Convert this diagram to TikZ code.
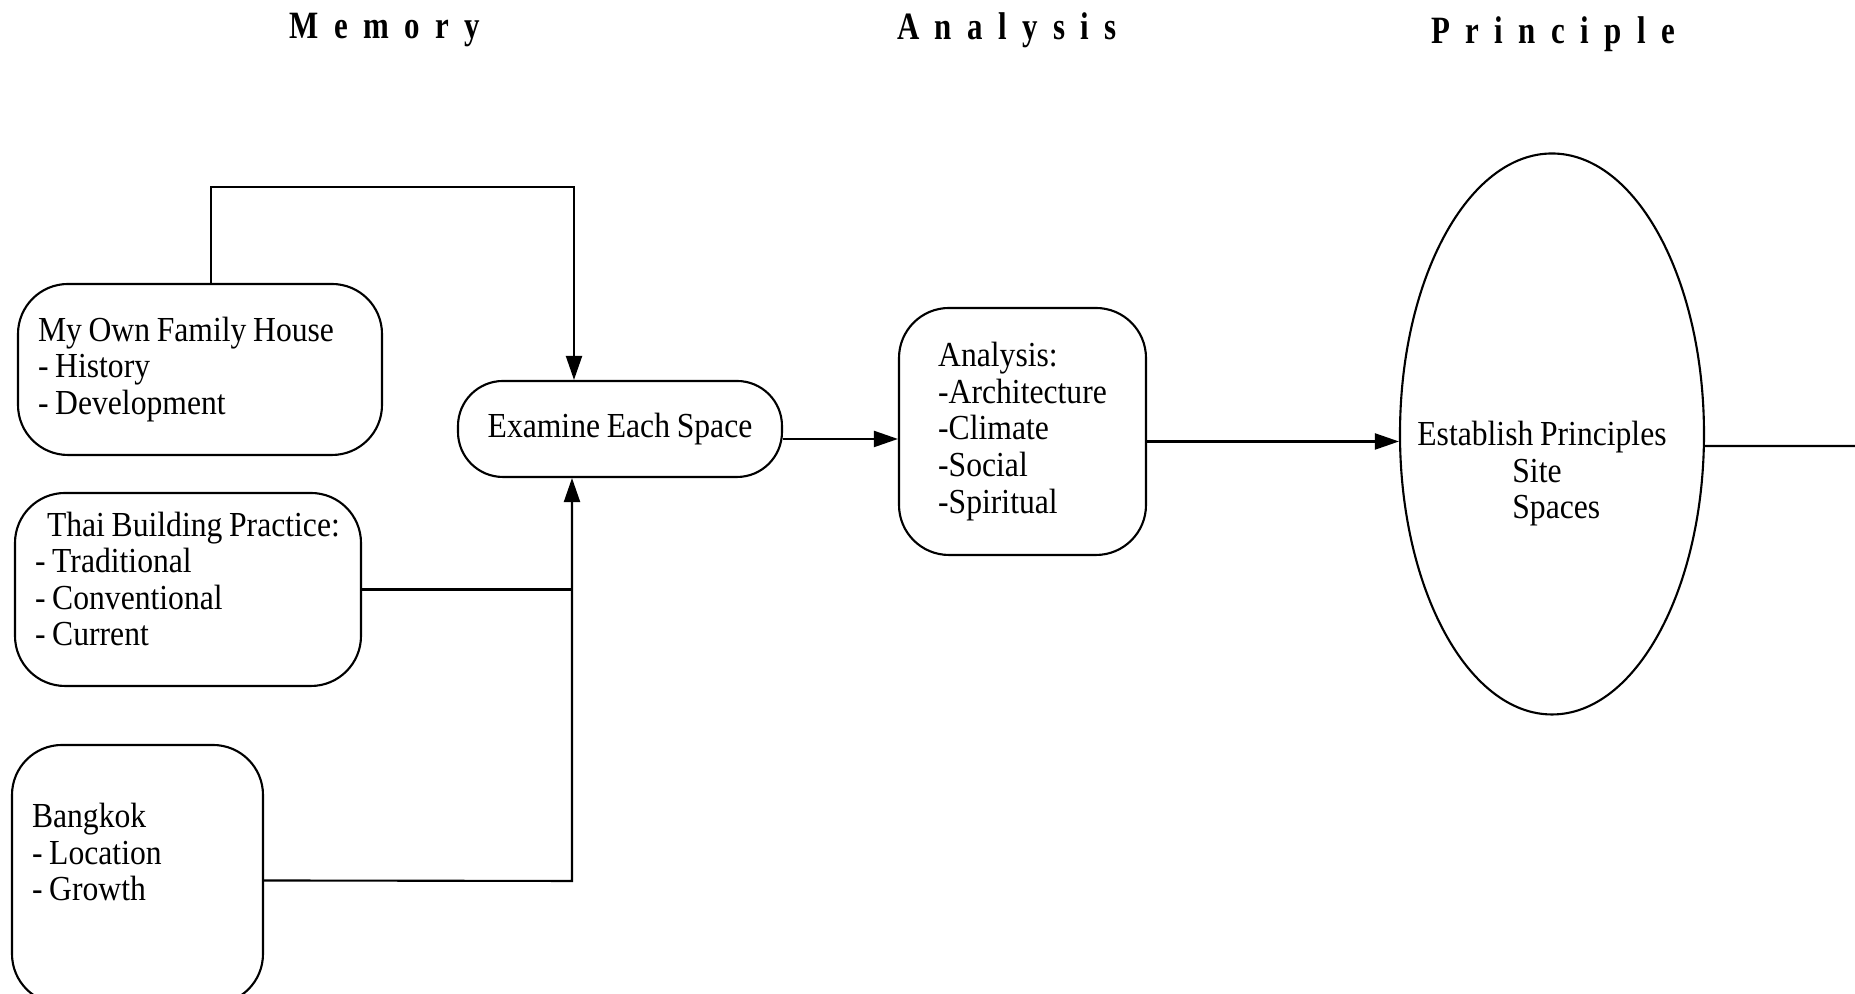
\documentclass[tikz,border=0pt]{standalone}
\usepackage{fontspec}
\setmainfont[FakeStretch=0.9, WordSpace=0.85]{Liberation Serif}
\newfontfamily\headfont[FakeStretch=0.8, LetterSpace=40]{Liberation Serif}
\usetikzlibrary{arrows.meta}
\usetikzlibrary{positioning}
\usetikzlibrary{shapes.geometric}
\tikzset{flow/.style = {-{Triangle[length=2.4mm, width=1.6mm]}}}
\tikzset{box/.style = {draw, rounded corners=0.5cm, align=flush left, inner xsep=0.2cm,
                       inner ysep=0, font=\fontsize{10}{10.4}\selectfont}}
\tikzset{heading/.style = {font=\headfont\bfseries\fontsize{11}{12}\selectfont}}

\begin{document}
\begin{tikzpicture}[line width=0.6pt]
          \useasboundingbox (0, 0) rectangle (18.55, 9.94);

          \node [heading] (memoryhead) at (3.85, 9.64) {Memory};
          \node [heading] (analysishead) at (10.07, 9.64) {Analysis};
          \node [heading] (principlehead) at (15.53, 9.60) {Principle};

          \node [box, text width=3.24cm, minimum height=1.71cm] (house) at (2.00, 6.245)
                {My Own Family House\\- History\\- Development};
          \node [box, text width=3.06cm, minimum height=1.93cm] (thai) at (1.88, 4.045)
                {\mbox{\hspace{0.12cm}Thai Building Practice:}\\- Traditional\\- Conventional\\- Current\\[-4.4pt]\mbox{}};
          \node [box, text width=2.11cm, minimum height=2.59cm] (bangkok) at (1.375, 1.195)
                {Bangkok\\- Location\\- Growth\\[2.4pt]\mbox{}};
          \node [box, rounded corners=0.45cm, align=center, minimum width=3.24cm,
                 minimum height=0.96cm] (examine) at (6.20, 5.65) {Examine Each Space};
          \node [box, minimum width=2.47cm, minimum height=2.47cm] (analysis) at (10.225, 5.625)
                {Analysis:\\-Architecture\\-Climate\\-Social\\-Spiritual};
          \node [draw, ellipse, minimum width=3.04cm, minimum height=5.61cm, inner sep=0]
                (principle) at (15.52, 5.60) {};
          \node [align=flush left, inner sep=0, font=\fontsize{10}{10.4}\selectfont] (principletext)
                at (15.42, 5.20)
                {Establish Principles\\\hspace{0.95cm}Site\\\hspace{0.95cm}Spaces};

          % memory into examine
          \coordinate (topbend) at (5.74, 8.07);
          \coordinate (merge) at (5.72, 1.13);
          \coordinate (exit) at (18.55, 5.48);
          \draw [flow] ([xshift=0.11cm]house.north) |- (topbend) -- (topbend |- examine.north);
          \draw (thai.east) -- (thai.east -| merge);
          \draw [flow] ([yshift=-0.06cm]bangkok.east) -- (merge) -- (merge |- examine.south);

          \draw [flow] ([yshift=-0.1cm]examine.east) -- ([yshift=-0.1cm]examine.east -| analysis.west);
          \draw [flow] ([yshift=-0.1cm]analysis.east) -- ([yshift=-0.1cm]analysis.east -| principle.west);
          \draw ([yshift=-0.12cm]principle.east) -- (exit);
        \end{tikzpicture}
\end{document}
